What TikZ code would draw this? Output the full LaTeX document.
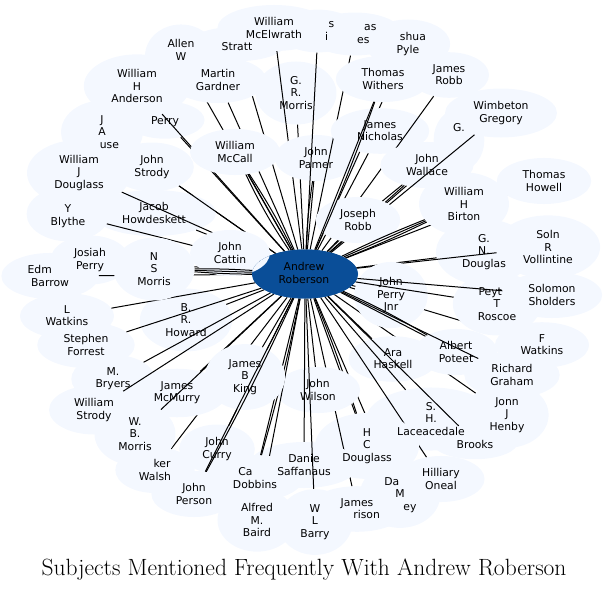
\documentclass[tikz,border=0pt]{standalone}
\usepackage{fontspec}
\newfontfamily\djv{DejaVu Sans}
\usetikzlibrary{shapes.geometric}
\definecolor{bubcol}{RGB}{244,248,255}
\definecolor{hubcol}{RGB}{10,78,152}
\newcommand\nlist{%
\X{allen}{181}{56}{Allen\\W\\~}%
\X{stratton}{237}{44}{\hphantom{Stratton}\\Stratt}%
\X{gardner}{218}{80}{Martin\\Gardner}%
\X{perry}{165}{120}{\hphantom{Josiah}\\Perry}%
\X{house}{102}{132}{J\\A\\\hphantom{Ho}use}%
\X{anderson}{137}{86}{William\\H\\Anderson}%
\X{mccall}{235}{152}{William\\McCall}\Y{mccall}{4}\Y{mccall}{-3}%
\X{grmorris}{296}{93}{G.\\R.\\Morris}%
\X{mcelwrath}{274}{28}{William\\McElwrath}%
\X{pamer}{316}{158}{John\\Pamer}\Y{pamer}{3}%
\X{fragsi}{318}{31}{\hphantom{Jame}s\\\hphantom{Hill}i}%
\X{thomasj}{355}{34}{\hphantom{Thom}as\\\hphantom{Jon}es}%
\X{pyle}{408}{44}{\hphantom{Jo}shua\\Pyle}%
\X{nicholas}{380}{131}{James\\Nicholas}%
\X{jrobb}{449}{75}{James\\Robb}%
\X{gfrag}{459}{140}{G.\\~\\~}%
\X{wallace}{427}{165}{John\\Wallace}\Y{wallace}{3}%
\X{gregory}{501}{113}{Wimbeton\\Gregory}%
\X{josrobb}{358}{220}{Joseph\\Robb}%
\X{withers}{383}{79}{Thomas\\Withers}\Y{withers}{-2}%
\X{howell}{544}{181}{Thomas\\Howell}%
\X{birton}{464}{204}{William\\H\\Birton}\Y{birton}{2}\Y{birton}{-2}%
\X{howdeskett}{154}{213}{Jacob\\Howdeskett}%
\X{blythe}{68}{214}{~\\Y\\Blythe}%
\X{josiah}{90}{260}{Josiah\\Perry}%
\X{barrow}{50}{276}{Edm\hphantom{und}\\Barrow}%
\X{jstrody}{152}{167}{John\\Strody}%
\X{jdouglass}{79}{173}{William\\J\\Douglass}%
\X{howard}{186}{320}{B.\\R.\\Howard}%
\X{lwatkins}{67}{316}{L\\Watkins}%
\X{forrest}{86}{345}{Stephen\\Forrest}%
\X{bryers}{113}{379}{M.\\Bryers}%
\X{cattin}{230}{253}{John\\Cattin}%
\X{nsmorris}{154}{269}{N\\S\\Morris}\Y{nsmorris}{2}\Y{nsmorris}{-2}%
\X{gndouglas}{484}{252}{G.\\N.\\Douglas}%
\X{vollintine}{548}{247}{Soln\\R\\Vollintine}%
\X{fwatkins}{542}{345}{F\\Watkins}%
\X{henby}{507}{415}{Jonn\\J\\Henby}%
\X{perryjnr}{391}{295}{John\\Perry\\Jnr}%
\X{roscoe}{497}{304}{Peyt\hphantom{on}\\T\\Roscoe}%
\X{sholders}{552}{295}{Solomon\\Sholders}%
\X{poteet}{456}{352}{Albert\\Poteet}\Y{poteet}{3}%
\X{graham}{512}{375}{Richard\\Graham}%
\X{haskell}{393}{359}{Ara\\Haskell}%
\X{laceacedale}{431}{419}{S.\\H.\\Laceacedale}%
\X{brooks}{475}{442}{\hphantom{Henry}\\Brooks}%
\X{oneal}{441}{479}{Hilliary\\Oneal}%
\X{dam}{400}{495}{Da\hphantom{vid}\\M\\\hphantom{Kinl}ey}%
\X{hcdouglass}{367}{446}{H\\C\\Douglass}\Y{hcdouglass}{2}%
\X{rison}{357}{509}{James\\\hphantom{Har}rison}%
\X{wilson}{318}{390}{John\\Wilson}%
\X{saffanaus}{304}{465}{Danie\\Saffanaus}%
\X{barry}{315}{522}{W\\L\\Barry}%
\X{walsh}{155}{470}{\hphantom{Ba}ker\\Walsh}%
\X{mcmurry}{177}{393}{James\\McMurry}%
\X{wbmorris}{135}{434}{W.\\B.\\Morris}%
\X{wstrody}{94}{410}{William\\Strody}%
\X{curry}{217}{449}{John\\Curry}%
\X{baird}{257}{520}{Alfred\\M.\\Baird}%
\X{dobbins}{255}{478}{Ca\hphantom{lvin}\\Dobbins}\Y{dobbins}{2}%
\X{king}{245}{377}{James\\B\\King}%
\X{person}{194}{494}{John\\Person}\Y{person}{2}%
}
\newcommand\mkfill[4]{\node[bub] (#1) at (#2,#3) {#4};\draw[spoke] (hub) -- (#1);}
\newcommand\mkbend[2]{\draw[spoke] (hub) to[bend left=#2] (#1);}
\newcommand\nobend[2]{}
\newcommand\mktext[4]{\node[lab] (#1-t) at (#2,#3) {#4};}
\begin{document}
\begin{tikzpicture}[x=1pt,y=-1pt,
  bub/.style={ellipse, fill=bubcol, draw=none, text opacity=0, align=center,
    inner xsep=12pt, inner ysep=6pt, font=\djv\fontsize{10.8}{12.2}\selectfont},
  lab/.style={align=center, inner sep=0pt, text=black, font=\djv\fontsize{10.8}{12.2}\selectfont},
  hub/.style={ellipse, fill=hubcol, draw=none, minimum width=106pt, minimum height=49pt, inner sep=0pt},
  spoke/.style={line width=1pt, black},
  ttl/.style={inner sep=0pt, font=\fontsize{23.5}{27}\selectfont}]
\useasboundingbox (0,0) rectangle (608,592);
\node[hub] (hub) at (305,274) {};
\let\X\mkfill \let\Y\mkbend \nlist
\node[hub] (hub2) at (hub) {};
\begin{scope}
\clip (hub.center) ellipse [x radius=53pt, y radius=24.5pt];
\node[bub] (cattin2) at (cattin) {John\\Cattin};
\end{scope}
\let\X\mktext \let\Y\nobend \nlist
\node[lab] (hubt) at (304,273) {Andrew\\Roberson};
\node[ttl] (title) at (304,570) {Subjects Mentioned Frequently With Andrew Roberson};
\end{tikzpicture}
\end{document}
